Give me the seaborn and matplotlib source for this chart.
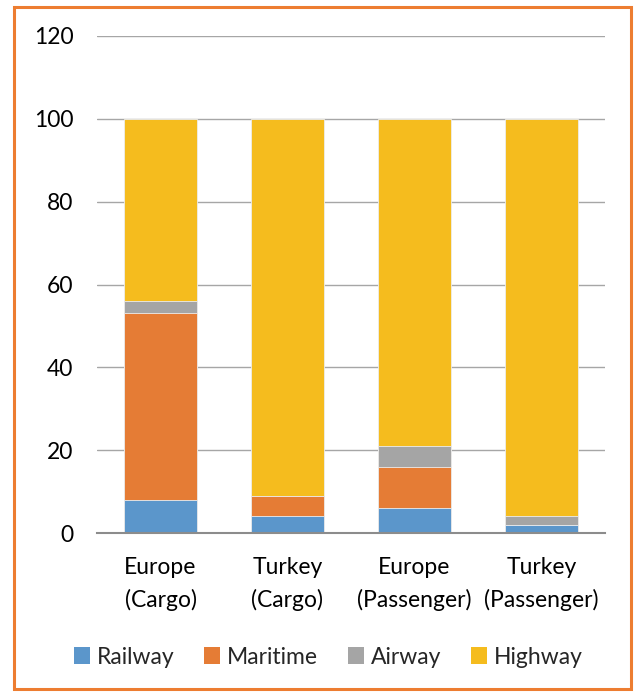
import numpy as np
import pandas as pd
import seaborn as sns
import matplotlib.pyplot as plt
from matplotlib.patches import Patch, Rectangle

categories = ["Europe\n(Cargo)", "Turkey\n(Cargo)", "Europe\n(Passenger)", "Turkey\n(Passenger)"]
modes = ["Railway", "Maritime", "Airway", "Highway"]
railway = [8, 4, 6, 2]
maritime = [45, 5, 10, 0]
airway = [3, 0, 5, 2]
highway = [44, 91, 79, 96]
colors = ["#5B96CB", "#E57C35", "#A5A5A5", "#F5BC1E"]
yticks = [0, 20, 40, 60, 80, 100, 120]

sns.set_theme(style="white")
plt.rcParams["font.family"] = ["Lato", "DejaVu Sans"]

df = pd.DataFrame({"category": categories, "Railway": railway, "Maritime": maritime,
                   "Airway": airway, "Highway": highway})
cum = df[modes].cumsum(axis=1)

fig = plt.figure(figsize=6.37 * np.array([1, 693 / 637]), dpi=100)
ax = fig.add_axes([97 / 637, 1 - 533 / 693, 508 / 637, 497 / 693])

# Stack by drawing cumulative totals from the top layer down
for mode, color in reversed(list(zip(modes, colors))):
    sns.barplot(x=df["category"], y=cum[mode], color=color, width=0.575,
                saturation=1, ax=ax, edgecolor="#EDEDED", linewidth=0.6, zorder=3)

ax.set_ylim(0, 120)
ax.set_xlim(-0.5, 3.5)
ax.set_yticks(yticks)
ax.set_xlabel("")
ax.set_ylabel("")
ax.grid(axis="y", color="#A6A6A6", linewidth=1.0, zorder=0)
for s in ["top", "right", "left"]:
    ax.spines[s].set_visible(False)
ax.spines["bottom"].set_color("#8C8C8C")
ax.spines["bottom"].set_linewidth(1.5)
ax.spines["bottom"].set_zorder(4)
ax.tick_params(axis="y", length=0, labelsize=16.5, pad=17, labelcolor="black")
ax.tick_params(axis="x", length=0, labelsize=16.5, pad=17, labelcolor="black")
for lab in ax.get_xticklabels():
    lab.set_linespacing(1.6)

handles = [Patch(facecolor=c, edgecolor="none") for c in colors]
fig.legend(handles, modes, loc="center", bbox_to_anchor=(0.515, 1 - 657 / 693),
           ncol=4, frameon=False, fontsize=16.5, handlelength=0.7, handleheight=0.7,
           handletextpad=0.3, columnspacing=1.3)

fig.patches.append(Rectangle((14 / 637, 4 / 693), 617 / 637, 682 / 693,
                             transform=fig.transFigure, fill=False,
                             edgecolor="#ED7D31", linewidth=2.2))

fig.savefig("out.png", dpi=100, facecolor="white")
